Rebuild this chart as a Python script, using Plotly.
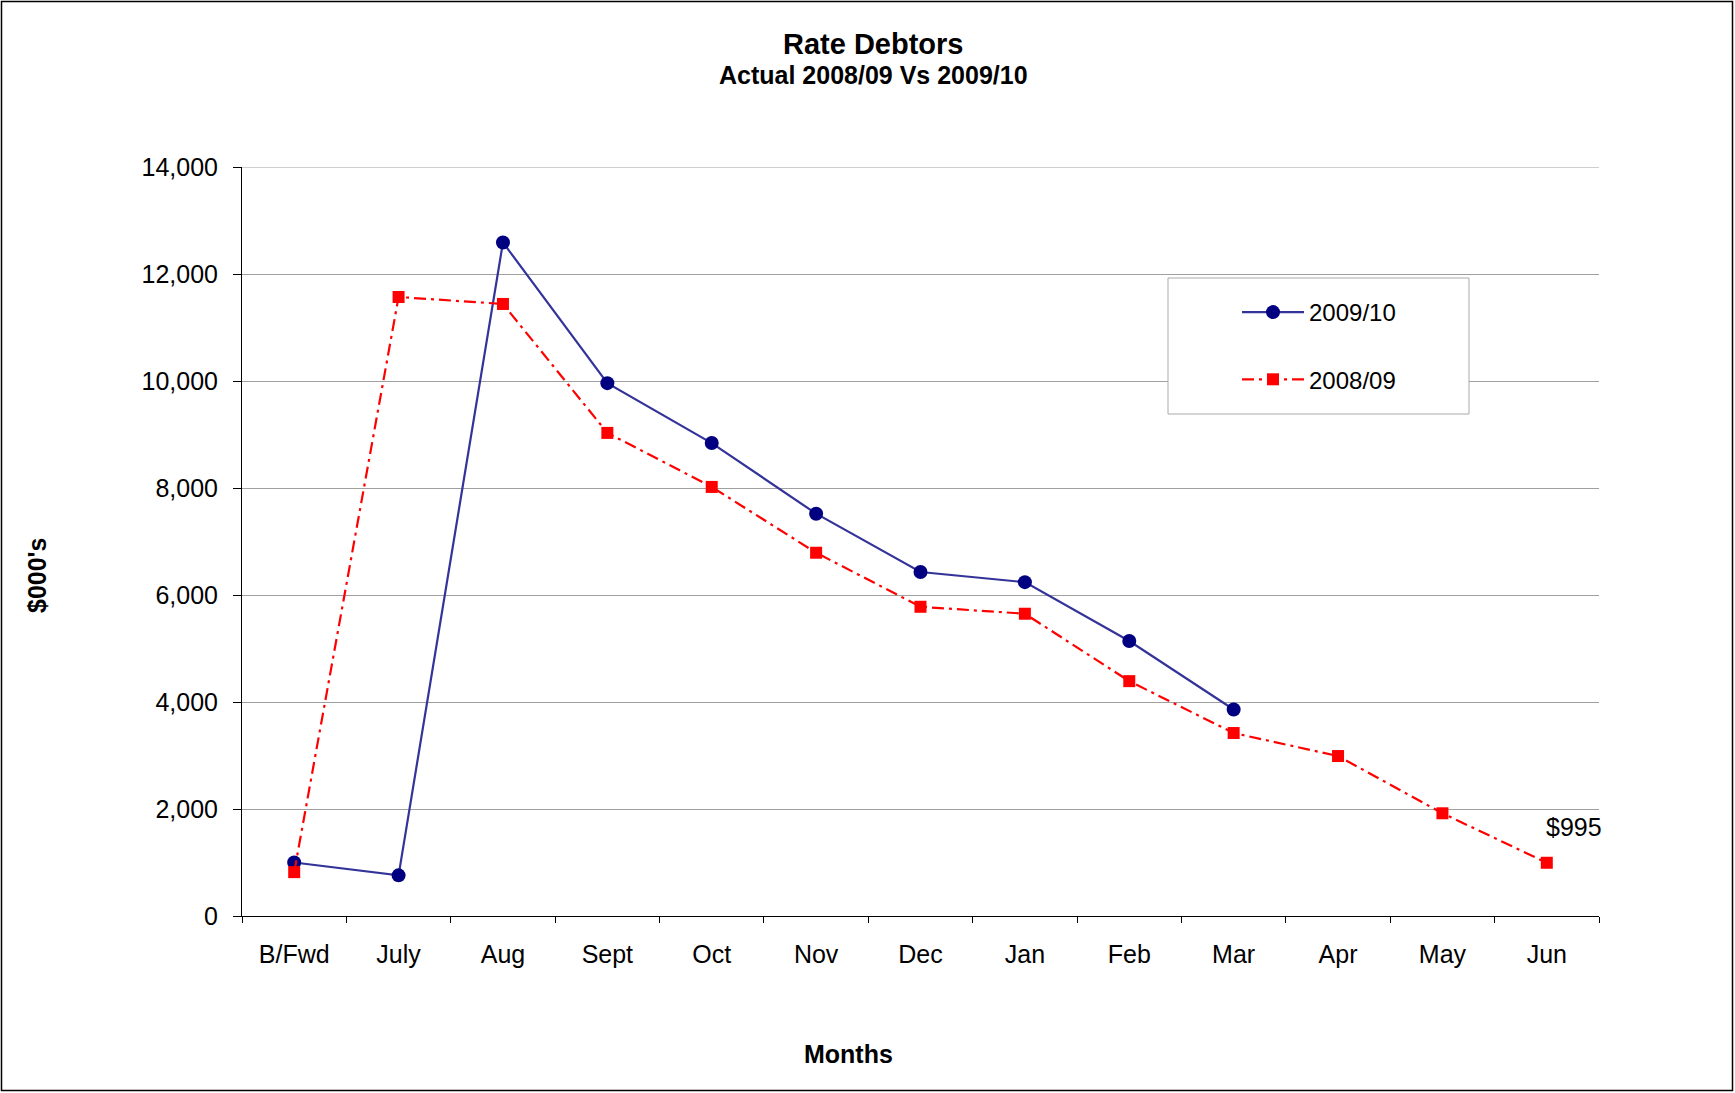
import plotly.graph_objects as go

months = ["B/Fwd", "July", "Aug", "Sept", "Oct", "Nov", "Dec", "Jan", "Feb", "Mar", "Apr", "May", "Jun"]
debtors_2009_10 = [1000, 760, 12590, 9960, 8840, 7520, 6430, 6240, 5140, 3860, None, None, None]
debtors_2008_09 = [820, 11570, 11440, 9030, 8020, 6790, 5780, 5650, 4390, 3420, 2990, 1920, 995]
y_ticks = [0, 2000, 4000, 6000, 8000, 10000, 12000, 14000]

FONT = "Liberation Sans, Arial, sans-serif"
W, H = 1735, 1093
ML, MR, MT, MB = 242, 136, 167, 177
PW = W - ML - MR
PH = H - MT - MB

fig = go.Figure()
fig.add_trace(go.Scatter(
    x=months, y=debtors_2009_10, name="2009/10", mode="lines+markers",
    line=dict(color="#333399", width=2.2),
    marker=dict(symbol="circle", size=14, color="#000080"),
    legendgroup="a",
))
fig.add_trace(go.Scatter(
    x=months, y=debtors_2008_09, name="2008/09", mode="lines+markers",
    line=dict(color="#FF0000", width=2.2, dash="12px,5px,3px,5px"),
    marker=dict(symbol="square", size=12, color="#FF0000"),
    legendgroup="b",
))

def px_x(px):
    return (px - ML) / PW

def px_y(py):
    return (H - MB - py) / PH

shapes = [
    # top gridline
    dict(type="line", xref="paper", yref="y", x0=0, x1=1, y0=14000, y1=14000,
         line=dict(color="#A0A0A0", width=1), layer="below"),
    # legend box
    dict(type="rect", xref="paper", yref="paper",
         x0=px_x(1168), x1=px_x(1469), y0=px_y(414), y1=px_y(278),
         line=dict(color="#AAAAAA", width=1), fillcolor="white", layer="above"),
    # outer frame
    dict(type="rect", xref="paper", yref="paper",
         x0=px_x(1.5), x1=px_x(W - 2.5), y0=px_y(H - 2.5), y1=px_y(1.5),
         line=dict(color="black", width=1.5), fillcolor="rgba(0,0,0,0)", layer="above"),
]

annotations = [
    dict(text="<b>Rate Debtors</b>", xref="paper", yref="paper",
         x=px_x(873), y=px_y(44), showarrow=False, font=dict(size=29, color="black", family=FONT),
         xanchor="center", yanchor="middle"),
    dict(text="<b>Actual 2008/09 Vs 2009/10</b>", xref="paper", yref="paper",
         x=px_x(873), y=px_y(75), showarrow=False, font=dict(size=25, color="black", family=FONT),
         xanchor="center", yanchor="middle"),
    dict(text="<b>Months</b>", xref="paper", yref="paper",
         x=px_x(848), y=px_y(1054), showarrow=False, font=dict(size=25, color="black", family=FONT),
         xanchor="center", yanchor="middle"),
    dict(text="<b>$000's</b>", xref="paper", yref="paper", textangle=-90,
         x=px_x(37), y=px_y(576), showarrow=False, font=dict(size=25, color="black", family=FONT),
         xanchor="center", yanchor="middle"),
    dict(text="$995", x="Jun", y=debtors_2008_09[-1], xref="x", yref="y",
         showarrow=False, xshift=27, yshift=36, font=dict(size=25, color="black", family=FONT),
         xanchor="center", yanchor="middle"),
]

fig.update_layout(
    width=W, height=H,
    margin=dict(l=ML, r=MR, t=MT, b=MB),
    paper_bgcolor="white", plot_bgcolor="white",
    font=dict(family=FONT, size=25, color="black"),
    showlegend=True,
    legend=dict(
        x=px_x(1237), y=px_y(290), xanchor="left", yanchor="top",
        bgcolor="rgba(0,0,0,0)", borderwidth=0,
        itemwidth=62, tracegroupgap=33, traceorder="grouped",
        font=dict(size=24, family=FONT, color="black"),
    ),
    xaxis=dict(
        type="category", showgrid=False, showline=True, linecolor="black", linewidth=1,
        ticks="outside", tickson="boundaries", ticklen=6, tickcolor="black",
        ticklabelstandoff=16, tickfont=dict(size=25),
        range=[-0.5, 12.5], fixedrange=True,
    ),
    yaxis=dict(
        range=[0, 14000], tickvals=y_ticks, tickformat=",", showgrid=True,
        gridcolor="#A0A0A0", gridwidth=1, showline=True, linecolor="black", linewidth=1,
        ticks="outside", ticklen=8, tickcolor="black", tickfont=dict(size=25),
        zeroline=False, ticklabelstandoff=10,
    ),
    shapes=shapes,
    annotations=annotations,
)

fig.write_html("out.html", config={"displayModeBar": False},
               post_script="document.body.style.margin='0';document.body.style.overflow='hidden';")
